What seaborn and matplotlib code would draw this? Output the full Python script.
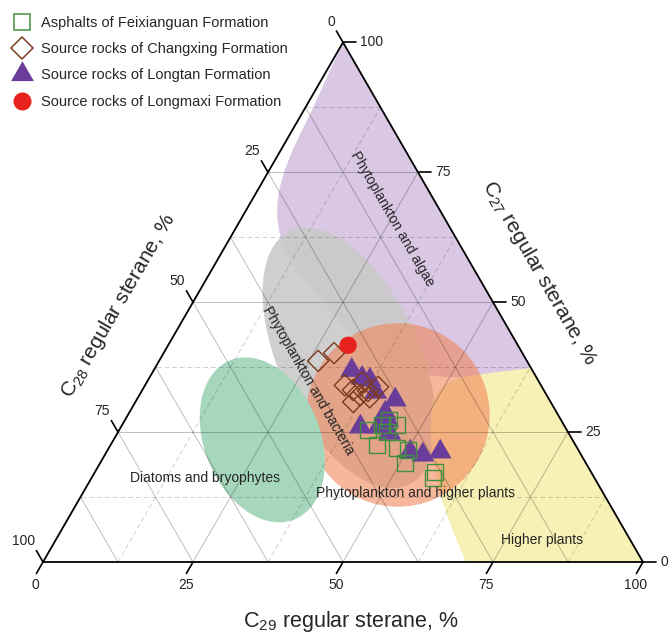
import numpy as np
import pandas as pd
import matplotlib
matplotlib.use("Agg")
import matplotlib.pyplot as plt
import seaborn as sns
from matplotlib.patches import Polygon, Ellipse, Circle
from matplotlib.lines import Line2D

# ---- regular sterane compositions, % (C27, C28, C29) ----
feixianguan_c27 = [25.4, 26.4, 27.3, 26.4, 22.5, 21.9, 21.5, 19.0, 17.3, 16.2, 25.0]
feixianguan_c28 = [33.1, 30.3, 28.7, 27.8, 33.1, 30.1, 28.4, 30.2, 26.0, 26.9, 30.2]
feixianguan_c29 = [41.5, 43.3, 44.0, 45.8, 44.4, 48.0, 50.1, 50.8, 56.7, 56.9, 44.8]

changxing_c27 = [38.7, 40.2, 34.0, 33.1, 32.1, 32.9, 33.7, 30.8, 31.7, 34.6]
changxing_c28 = [34.8, 31.4, 32.7, 31.8, 31.1, 29.4, 27.3, 32.9, 29.7, 29.5]
changxing_c29 = [26.5, 28.4, 33.3, 35.1, 36.8, 37.7, 39.0, 36.3, 38.6, 35.9]

longtan_c27 = [36.9, 35.0, 35.4, 31.2, 28.7, 26.0, 26.0, 24.8, 21.2, 20.6, 21.2, 32.7, 27.3]
longtan_c28 = [30.1, 28.0, 29.1, 25.7, 28.6, 34.1, 31.1, 29.8, 28.2, 26.4, 23.2, 28.2, 28.9]
longtan_c29 = [33.0, 37.0, 35.5, 43.1, 42.7, 39.9, 42.9, 45.4, 50.6, 53.0, 55.6, 39.1, 43.8]

longmaxi_c27 = [41.7]
longmaxi_c28 = [28.3]
longmaxi_c29 = [30.0]

series_labels = [
    "Asphalts of Feixianguan Formation",
    "Source rocks of Changxing Formation",
    "Source rocks of Longtan Formation",
    "Source rocks of Longmaxi Formation",
]

tick_values = [0, 25, 50, 75, 100]

# ---- organic-matter source fields (C27 %, C29 %) ----
algae_c27 = [37.3, 36.2, 35.4, 36.0, 41.7, 55.2, 61.0, 66.9, 72.7, 79.2, 86.9, 95.6, 100.0]
algae_c29 = [62.7, 56.4, 51.8, 44.8, 32.0, 15.2, 9.3, 5.4, 3.1, 1.9, 1.4, 0.4, 0.0]
higher_c27 = [37.3, 36.2, 35.0, 32.5, 28.3, 20.6, 12.9, 6.2, 0.0]
higher_c29 = [62.7, 54.8, 50.3, 49.3, 50.4, 54.5, 59.7, 65.1, 70.5]
bacteria_centre = (39.3, 31.4)
bacteria_size = (46.7, 23.3)
bacteria_tilt = 115
diatom_centre = (23.5, 24.8)
diatom_size = (28.6, 19.3)
diatom_tilt = 112
mixed_centre = (28.3, 45.0)
mixed_radius = 15.3

field_labels = {
    "Phytoplankton and algae": ((66.0, 25.2), -60),
    "Phytoplankton and bacteria": ((35.0, 26.7), -60),
    "Diatoms and bryophytes": ((16.2, 18.9), 0),
    "Phytoplankton and higher plants": ((13.3, 55.4), 0),
    "Higher plants": ((4.2, 81.1), 0),
}

S3 = np.sqrt(3) / 2


def tern(c27, c29):
    c27 = np.asarray(c27, float)
    c29 = np.asarray(c29, float)
    return c29 + c27 / 2, c27 * S3


def chaikin(pts, n=4):
    pts = np.asarray(pts, float)
    for _ in range(n):
        q = 0.75 * pts[:-1] + 0.25 * pts[1:]
        r = 0.25 * pts[:-1] + 0.75 * pts[1:]
        mid = np.empty((2 * len(q), 2))
        mid[0::2] = q
        mid[1::2] = r
        pts = np.vstack([pts[0], mid, pts[-1]])
    return pts


sns.set_theme(style="white")
plt.rcParams["font.family"] = ["Liberation Sans", "DejaVu Sans"]
plt.rcParams["mathtext.fontset"] = "custom"
plt.rcParams["mathtext.rm"] = "Liberation Sans"
plt.rcParams["mathtext.it"] = "Liberation Sans:italic"

fig = plt.figure(figsize=(6.71, 6.34), dpi=100)
ax = fig.add_axes([0, 0, 1, 1])
ax.set_xlim(-43 / 6, 628 / 6)
ax.set_ylim(-72 / 6, 562 / 6)
ax.axis("off")

# ---- source fields ----
x, y = tern(algae_c27, algae_c29)
ax.add_patch(Polygon(chaikin(np.column_stack([x, y])), closed=True,
                     fc="#d9c7e4", ec="none", zorder=1))

cx, cy = tern(*bacteria_centre)
ax.add_patch(Ellipse((cx, cy), bacteria_size[0], bacteria_size[1], angle=bacteria_tilt,
                     fc="#cacaca", ec="none", alpha=0.9, zorder=1.1))

x, y = tern(higher_c27, higher_c29)
pts = chaikin(np.column_stack([x, y]))
bx, by = tern(0, 100)
pts = np.vstack([pts, [bx, by]])
ax.add_patch(Polygon(pts, closed=True, fc="#f7f1b5", ec="none", zorder=1.2))

cx, cy = tern(*mixed_centre)
ax.add_patch(Circle((cx, cy), mixed_radius, fc="#f0875a", ec="none", alpha=0.6, zorder=1.3))

cx, cy = tern(*diatom_centre)
ax.add_patch(Ellipse((cx, cy), diatom_size[0], diatom_size[1], angle=diatom_tilt,
                     fc="#a6d7bd", ec="none", zorder=1.4))

# ---- grid ----
solid = dict(color="black", alpha=0.25, lw=0.7, zorder=2)
dashed = dict(color="black", alpha=0.18, lw=0.7, ls=(0, (5, 3)), zorder=2)
for v in np.arange(12.5, 100, 12.5):
    major = v % 25 == 0
    ax.plot(*tern([v, v], [0, 100 - v]), **(solid if major else dashed))
    ax.plot(*tern([100 - v, 0], [0, 100 - v]), **solid)
    ax.plot(*tern([0, 100 - v], [v, v]), **(solid if major else dashed))

# ---- frame, ticks and tick labels ----
fx, fy = tern([0, 0, 100, 0], [0, 100, 0, 0])
ax.plot(fx, fy, color="black", lw=1.3, zorder=3, solid_joinstyle="miter")

L = 2.2
for v in tick_values:
    # C29 along the base
    px, py = tern(0, v)
    ax.plot([px, px - L * 0.5], [py, py - L * S3], color="black", lw=1.2, zorder=3)
    ax.text(px - 1.2, py - 3.85, f"{v}", ha="center", va="center", fontsize=10)
    # C28 along the left side
    px, py = tern(100 - v, 0)
    ax.plot([px, px - L * 0.5], [py, py + L * S3], color="black", lw=1.2, zorder=3)
    ax.text(px - 1.3, py + 2.3, f"{v}", ha="right", va="bottom", fontsize=10)
    # C27 along the right side
    px, py = tern(v, 100 - v)
    ax.plot([px, px + L], [py, py], color="black", lw=1.2, zorder=3)
    ax.text(px + 2.9, py, f"{v}", ha="left", va="center", fontsize=10)

ax.text(51.3, -10.0, "C$_{29}$ regular sterane, %", ha="center", va="center", fontsize=15.5)
ax.text(12.5, 42.7, "C$_{28}$ regular sterane, %", ha="center", va="center",
        rotation=60, rotation_mode="anchor", fontsize=15)
ax.text(82.7, 48.2, "C$_{27}$ regular sterane, %", ha="center", va="center",
        rotation=-60, rotation_mode="anchor", fontsize=15)

for name, ((c27, c29), rot) in field_labels.items():
    lx, ly = tern(c27, c29)
    ax.text(lx, ly, name, ha="center", va="center", rotation=rot,
            rotation_mode="anchor", fontsize=10, zorder=3)

# ---- samples ----
tri = [(-1, -0.5774), (1, -0.5774), (0, 1.1547)]
green, brown, purple, red = "#3f8f3f", "#7d3a1f", "#6a3d9a", "#e8231f"

df = pd.concat([
    pd.DataFrame({"c27": feixianguan_c27, "c28": feixianguan_c28, "c29": feixianguan_c29, "group": series_labels[0]}),
    pd.DataFrame({"c27": changxing_c27, "c28": changxing_c28, "c29": changxing_c29, "group": series_labels[1]}),
    pd.DataFrame({"c27": longtan_c27, "c28": longtan_c28, "c29": longtan_c29, "group": series_labels[2]}),
    pd.DataFrame({"c27": longmaxi_c27, "c28": longmaxi_c28, "c29": longmaxi_c29, "group": series_labels[3]}),
], ignore_index=True)
df["x"], df["y"] = tern(df["c27"], df["c29"])

styles = {
    series_labels[2]: dict(marker=tri, s=19.0 ** 2, color=purple, edgecolor="none", zorder=4),
    series_labels[0]: dict(marker="s", s=11.6 ** 2, color=green, facecolors="none",
                           edgecolor=green, linewidth=1.0, zorder=5),
    series_labels[1]: dict(marker="D", s=10.8 ** 2, color=brown, facecolors="none",
                           edgecolor=brown, linewidth=1.0, zorder=6),
    series_labels[3]: dict(marker="o", s=12.5 ** 2, color=red, edgecolor="none", zorder=7),
}
for grp, kw in styles.items():
    sns.scatterplot(data=df[df["group"] == grp], x="x", y="y", ax=ax, legend=False, **kw)

handles = [
    Line2D([], [], ls="none", marker="s", ms=11.5, mfc="none", mec=green, mew=1.1),
    Line2D([], [], ls="none", marker="D", ms=11.0, mfc="none", mec=brown, mew=1.1),
    Line2D([], [], ls="none", marker=tri, ms=19.0, mfc=purple, mec="none"),
    Line2D([], [], ls="none", marker="o", ms=13.0, mfc=red, mec="none"),
]
fig.legend(handles, series_labels, loc="upper left", bbox_to_anchor=(10 / 671, 1 - 16 / 634),
           frameon=False, fontsize=10.5, borderpad=0, borderaxespad=0,
           handlelength=1.6, handletextpad=0.55, labelspacing=0.84)

fig.savefig("out.png", dpi=100)
